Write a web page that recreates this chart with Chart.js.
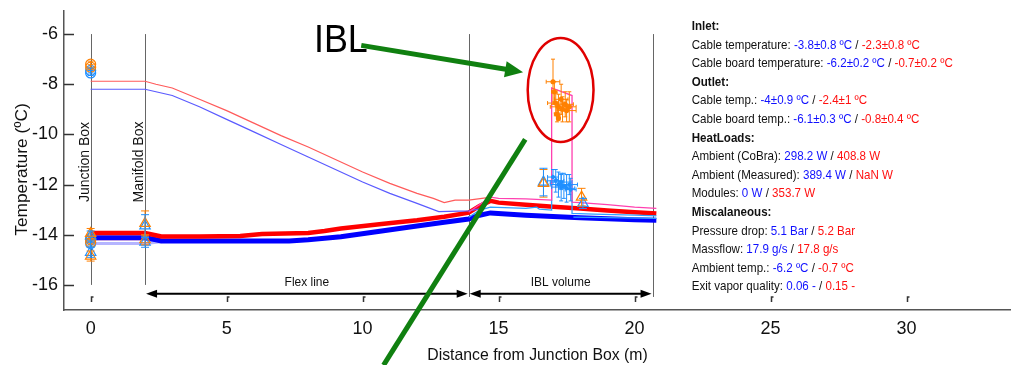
<!DOCTYPE html>
<html>
<head>
<meta charset="utf-8">
<script src="https://cdn.jsdelivr.net/npm/chart.js@4.4.1/dist/chart.umd.min.js"></script>
<style>
  html, body { margin: 0; padding: 0; background: #fff; }
</style>
</head>
<body>
<canvas id="myChart" width="1011" height="365"></canvas>
<script>
var xTicks = [0, 5, 10, 15, 20, 25, 30];
var yTicks = [-16, -14, -12, -10, -8, -6];

// temperature profiles along the line [distance, temp]
var thinRed = [[0,-7.88],[2,-7.88],[2.4,-8.0],[3,-8.15],[4,-8.6],[5,-9.05],[6,-9.55],[7,-10.05],[8,-10.5],[9,-11.0],[10,-11.5],[11,-11.95],[12,-12.35],[12.6,-12.55],[13,-12.72],[13.4,-12.62],[13.9,-12.62],[14.6,-12.52]];
var thinBlue = [[0,-8.2],[2,-8.2],[2.4,-8.3],[3,-8.45],[4,-8.9],[5,-9.4],[6,-9.9],[7,-10.4],[8,-10.9],[9,-11.4],[10,-11.9],[11,-12.35],[12,-12.75],[12.8,-13.08],[13.9,-13.05],[14.4,-12.95]];
var thickRed = [[0,-13.93],[2,-13.93],[2.3,-14.0],[2.6,-14.07],[4,-14.07],[5.5,-14.05],[6.3,-13.97],[8,-13.93],[8.6,-13.85],[9.2,-13.75],[10.7,-13.57],[12,-13.42],[13,-13.28],[13.9,-13.12],[14.3,-12.85],[14.7,-12.65],[15,-12.72],[16,-12.8],[17,-12.88],[18,-12.95],[19,-13.03],[20,-13.1],[20.8,-13.15]];
var thickBlue = [[0,-14.12],[2,-14.12],[2.4,-14.2],[2.6,-14.25],[7.3,-14.25],[8,-14.2],[9.2,-14.08],[10.7,-13.85],[12,-13.65],[13,-13.5],[13.9,-13.37],[14.3,-13.22],[14.7,-13.13],[16,-13.22],[17,-13.27],[18,-13.32],[19,-13.36],[20,-13.4],[20.8,-13.42]];
var paleRed = [[0,-14.15],[2,-14.15],[2.5,-14.12]];
var paleBlue = [[0,-14.35],[2,-14.35],[2.6,-14.28]];
var pinkLine = [[13.9,-13.1],[14.3,-12.8],[14.7,-12.5],[15,-12.55],[16,-12.57],[16.95,-12.62],[16.95,-8.15],[17.7,-8.45],[17.7,-12.7],[18,-12.72],[19,-12.8],[20,-12.9],[20.8,-12.95]];
var skyLine = [[13.9,-13.3],[14.3,-13.02],[14.7,-12.9],[16,-12.95],[16.4,-12.9],[16.5,-12.98],[16.95,-13.02],[16.95,-11.6],[17.7,-12.3],[17.7,-13.15],[18.5,-13.18],[20,-13.22],[20.8,-13.25]];
var skyLine2 = [[17.75,-13.3],[19,-13.32],[20.8,-13.35]];

// sensor readings [distance, temp, xErr, yErr]
var orangeCircles = [[0,-7.2,0,0.12],[0,-7.32,0,0.1],[0,-14.15,0,0.1],[0,-14.3,0,0.1]];
var blueCircles = [[0,-7.45,0,0.1],[0,-7.55,0,0.1],[0,-14.2,0,0.1],[0,-14.35,0,0.1]];
var orangeTri = [[0,-13.95,0,0.2],[0,-14.85,0,0.2],[2,-13.55,0,0.5],[2,-14.2,0,0.2],[16.65,-11.95,0,0.55],[18.05,-12.5,0,0.35]];
var blueTri = [[0,-14.05,0,0.2],[0,-14.7,0,0.2],[2,-13.65,0,0.45],[2,-14.3,0,0.2],[16.65,-11.9,0,0.55],[18.1,-12.75,0,0.2]];
var iblOrange = [[17.0,-7.9,0.25,0.9],[17.05,-8.3,0.1,0.4],[17.1,-8.75,0.3,0.4],[17.2,-8.9,0.3,0.5],[17.3,-8.6,0.25,0.6],[17.35,-9.0,0.2,0.5],[17.45,-8.8,0.3,0.5],[17.5,-9.05,0.35,0.45],[17.6,-8.9,0.25,0.6],[17.15,-9.2,0.1,0.3],[17.2,-9.35,0.05,0.1]];
var iblBlue = [[17.0,-11.7,0.2,0.3],[17.1,-11.85,0.3,0.45],[17.2,-12.0,0.3,0.5],[17.3,-12.1,0.35,0.55],[17.4,-12.05,0.3,0.5],[17.5,-12.15,0.3,0.55],[17.6,-12.0,0.3,0.4],[17.65,-12.2,0.2,0.45],[17.3,-11.9,0.4,0.3]];

var stations = [0, 2, 13.9, 20.66];
var stationBottoms = [-16, -16, -16.48, -16.48];
var stationNames = ['Junction Box', 'Manifold Box'];
var spanNames = ['Flex line', 'IBL volume'];
var spanStarts = [2, 13.9];
var spanEnds = [13.9, 20.66];

var panelLines = [
  [['Inlet:', 'b']],
  [['Cable temperature: ', 'k'], ['-3.8±0.8 ºC', 'B'], [' / ', 'k'], ['-2.3±0.8 ºC', 'R']],
  [['Cable board temperature: ', 'k'], ['-6.2±0.2 ºC', 'B'], [' / ', 'k'], ['-0.7±0.2 ºC', 'R']],
  [['Outlet:', 'b']],
  [['Cable temp.: ', 'k'], ['-4±0.9 ºC', 'B'], [' / ', 'k'], ['-2.4±1 ºC', 'R']],
  [['Cable board temp.: ', 'k'], ['-6.1±0.3 ºC', 'B'], [' / ', 'k'], ['-0.8±0.4 ºC', 'R']],
  [['HeatLoads:', 'b']],
  [['Ambient (CoBra): ', 'k'], ['298.2 W', 'B'], [' / ', 'k'], ['408.8 W', 'R']],
  [['Ambient (Measured): ', 'k'], ['389.4 W', 'B'], [' / ', 'k'], ['NaN W', 'R']],
  [['Modules: ', 'k'], ['0 W', 'B'], [' / ', 'k'], ['353.7 W', 'R']],
  [['Miscalaneous:', 'b']],
  [['Pressure drop: ', 'k'], ['5.1 Bar', 'B'], [' / ', 'k'], ['5.2 Bar', 'R']],
  [['Massflow: ', 'k'], ['17.9 g/s', 'B'], [' / ', 'k'], ['17.8 g/s', 'R']],
  [['Ambient temp.: ', 'k'], ['-6.2 ºC', 'B'], [' / ', 'k'], ['-0.7 ºC', 'R']],
  [['Exit vapor quality: ', 'k'], ['0.06 -', 'B'], [' / ', 'k'], ['0.15 -', 'R']]
];

var FONT = '"Liberation Sans", Arial, sans-serif';
var GREEN = '#108010';

function toPts(arr) {
  return arr.map(function(p) { return { x: p[0], y: p[1], ex: p[2] || 0, ey: p[3] || 0 }; });
}

function lineSet(arr, color, width) {
  return { data: toPts(arr), showLine: true, borderColor: color, borderWidth: width,
           pointRadius: 0, fill: false, tension: 0 };
}

function markSet(arr, color, style, radius, cap, filled) {
  return { data: toPts(arr), showLine: false, borderColor: color, pointBorderColor: color,
           pointBackgroundColor: filled ? color : 'rgba(0,0,0,0)', pointStyle: style,
           pointRadius: radius, pointBorderWidth: 1.2, errBars: true, capSize: cap };
}

// text squeezed horizontally, the original uses a narrow face
function narrowText(ctx, text, x, y, sx) {
  ctx.save();
  ctx.translate(x, y);
  ctx.scale(sx, 1);
  ctx.fillText(text, 0, 0);
  ctx.restore();
}

function arrowHead(ctx, x, y, dir, len, half) {
  ctx.beginPath();
  ctx.moveTo(x, y);
  ctx.lineTo(x - dir * len, y - half);
  ctx.lineTo(x - dir * len, y + half);
  ctx.closePath();
  ctx.fill();
}

var extras = {
  id: 'extras',
  beforeDatasetsDraw: function(chart) {
    var ctx = chart.ctx, xs = chart.scales.x, ys = chart.scales.y;
    ctx.save();
    ctx.strokeStyle = '#666';
    ctx.lineWidth = 1;
    stations.forEach(function(s, i) {
      var px = Math.round(xs.getPixelForValue(s)) + 0.5;
      ctx.beginPath();
      ctx.moveTo(px, ys.getPixelForValue(-6));
      ctx.lineTo(px, ys.getPixelForValue(stationBottoms[i]));
      ctx.stroke();
    });
    // station names, rotated
    ctx.fillStyle = '#111';
    ctx.font = '14px ' + FONT;
    ctx.textAlign = 'center';
    ctx.textBaseline = 'middle';
    stationNames.forEach(function(n, i) {
      ctx.save();
      ctx.translate(xs.getPixelForValue(stations[i]) - 6, ys.getPixelForValue(-11.1));
      ctx.rotate(-Math.PI / 2);
      ctx.fillText(n, 0, 0);
      ctx.restore();
    });
    // span arrows
    ctx.strokeStyle = '#000';
    ctx.lineWidth = 2;
    var ay = ys.getPixelForValue(-16.35);
    spanNames.forEach(function(n, i) {
      var a = xs.getPixelForValue(spanStarts[i]) + 1, b = xs.getPixelForValue(spanEnds[i]) - 1;
      ctx.beginPath();
      ctx.moveTo(a + 6, ay); ctx.lineTo(b - 6, ay);
      ctx.stroke();
      ctx.fillStyle = '#000';
      arrowHead(ctx, a, ay, -1, 11, 4);
      arrowHead(ctx, b, ay, 1, 11, 4);
      ctx.font = '13px ' + FONT;
      ctx.fillStyle = '#111';
      narrowText(ctx, n, (a + b) / 2, ys.getPixelForValue(-15.9), 0.92);
    });
    ctx.restore();
  },
  afterDatasetsDraw: function(chart) {
    var ctx = chart.ctx, xs = chart.scales.x, ys = chart.scales.y, area = chart.chartArea;
    ctx.save();
    // error bars
    chart.data.datasets.forEach(function(ds) {
      if (!ds.errBars) return;
      var cap = ds.capSize;
      ctx.strokeStyle = ds.borderColor;
      ctx.lineWidth = 1;
      ds.data.forEach(function(p) {
        var px = xs.getPixelForValue(p.x), py = ys.getPixelForValue(p.y);
        ctx.beginPath();
        if (p.ey) {
          var t = ys.getPixelForValue(p.y + p.ey), b = ys.getPixelForValue(p.y - p.ey);
          ctx.moveTo(px, t); ctx.lineTo(px, b);
          ctx.moveTo(px - cap, t); ctx.lineTo(px + cap, t);
          ctx.moveTo(px - cap, b); ctx.lineTo(px + cap, b);
        }
        if (p.ex) {
          var l = xs.getPixelForValue(p.x - p.ex), r = xs.getPixelForValue(p.x + p.ex);
          ctx.moveTo(l, py); ctx.lineTo(r, py);
          ctx.moveTo(l, py - cap); ctx.lineTo(l, py + cap);
          ctx.moveTo(r, py - cap); ctx.lineTo(r, py + cap);
        }
        ctx.stroke();
      });
    });
    // tick marks (drawn inside the axes)
    ctx.strokeStyle = '#333';
    ctx.lineWidth = 1.5;
    yTicks.forEach(function(v) {
      var py = Math.round(ys.getPixelForValue(v)) + 0.5;
      ctx.beginPath();
      ctx.moveTo(area.left, py); ctx.lineTo(area.left + 10, py);
      ctx.stroke();
    });
    xTicks.forEach(function(v) {
      var px = Math.round(xs.getPixelForValue(v)) + 0.5;
      ctx.beginPath();
      ctx.moveTo(px, area.bottom - 8); ctx.lineTo(px, area.bottom - 13); ctx.lineTo(px + 2, area.bottom - 13);
      ctx.stroke();
    });
    // IBL annotation
    ctx.fillStyle = '#000';
    ctx.font = '39px ' + FONT;
    ctx.textAlign = 'center';
    ctx.textBaseline = 'alphabetic';
    narrowText(ctx, 'IBL', xs.getPixelForValue(9.2), ys.getPixelForValue(-6.72), 0.92);
    ctx.strokeStyle = GREEN;
    ctx.fillStyle = GREEN;
    ctx.lineWidth = 5;
    var x1 = xs.getPixelForValue(9.95), y1 = ys.getPixelForValue(-6.45);
    var x2 = xs.getPixelForValue(15.9), y2 = ys.getPixelForValue(-7.52);
    var ang = Math.atan2(y2 - y1, x2 - x1);
    ctx.beginPath();
    ctx.moveTo(x1, y1);
    ctx.lineTo(x2 - 16 * Math.cos(ang), y2 - 16 * Math.sin(ang));
    ctx.stroke();
    ctx.beginPath();
    ctx.moveTo(x2, y2);
    ctx.lineTo(x2 - 18 * Math.cos(ang) + 8 * Math.sin(ang), y2 - 18 * Math.sin(ang) - 8 * Math.cos(ang));
    ctx.lineTo(x2 - 18 * Math.cos(ang) - 8 * Math.sin(ang), y2 - 18 * Math.sin(ang) + 8 * Math.cos(ang));
    ctx.closePath();
    ctx.fill();
    ctx.beginPath();
    ctx.moveTo(xs.getPixelForValue(15.98), ys.getPixelForValue(-10.2));
    ctx.lineTo(xs.getPixelForValue(10.77), ys.getPixelForValue(-19.2));
    ctx.stroke();
    // red ellipse
    ctx.strokeStyle = '#e00000';
    ctx.lineWidth = 2.5;
    var cx = xs.getPixelForValue(17.28), cy = ys.getPixelForValue(-8.23);
    ctx.beginPath();
    ctx.ellipse(cx, cy, xs.getPixelForValue(18.49) - cx, ys.getPixelForValue(-10.3) - cy, 0, 0, Math.PI * 2);
    ctx.stroke();
    ctx.restore();
  },
  afterDraw: function(chart) {
    var ctx = chart.ctx, xs = chart.scales.x, area = chart.chartArea;
    ctx.save();
    // axis titles
    ctx.fillStyle = '#111';
    ctx.font = '17px ' + FONT;
    ctx.textAlign = 'center';
    ctx.textBaseline = 'middle';
    narrowText(ctx, 'Distance from Junction Box (m)', (area.left + area.right) / 2, area.bottom + 45, 0.93);
    ctx.save();
    ctx.translate(22, (area.top + area.bottom) / 2 + 9);
    ctx.rotate(-Math.PI / 2);
    narrowText(ctx, 'Temperature (ºC)', 0, 0, 1.02);
    ctx.restore();
    // summary panel
    var px = xs.getPixelForValue(22.1);
    var colors = { k: '#111', b: '#111', B: '#1010ff', R: '#ff1010' };
    ctx.textAlign = 'left';
    panelLines.forEach(function(line, i) {
      var y = area.top + 15.5 + i * 18.6;
      ctx.save();
      ctx.translate(px, y);
      ctx.scale(0.89, 1);
      var x = 0;
      line.forEach(function(seg) {
        ctx.font = (seg[1] === 'b' ? 'bold ' : '') + '13px ' + FONT;
        ctx.fillStyle = colors[seg[1]];
        ctx.fillText(seg[0], x, 0);
        x += ctx.measureText(seg[0]).width;
      });
      ctx.restore();
    });
    ctx.restore();
  }
};

var ctx = document.getElementById('myChart');
var myChart = new Chart(ctx, {
  type: 'scatter',
  data: {
    datasets: [
      markSet(iblOrange, '#ff8000', 'circle', 2, 2, true),
      markSet(iblBlue, '#2090ff', 'circle', 1.5, 2, true),
      markSet(orangeTri, '#ff8000', 'triangle', 6, 4, false),
      markSet(blueTri, '#2090ff', 'triangle', 6, 4, false),
      markSet(orangeCircles, '#ff8000', 'circle', 5, 3, false),
      markSet(blueCircles, '#2090ff', 'circle', 5, 3, false),
      lineSet(pinkLine, '#ff40b0', 1.3),
      lineSet(skyLine, '#30a0ff', 1.3),
      lineSet(skyLine2, '#30a0ff', 1.3),
      lineSet(thinRed, '#ff5a5a', 1.2),
      lineSet(thinBlue, '#5a5aff', 1.2),
      lineSet(thickRed, '#ff0000', 4.5),
      lineSet(thickBlue, '#0000ff', 5),
      lineSet(paleRed, 'rgba(255,120,150,0.6)', 4),
      lineSet(paleBlue, 'rgba(150,150,255,0.7)', 3)
    ]
  },
  options: {
    responsive: false,
    animation: false,
    devicePixelRatio: 1,
    layout: { autoPadding: false, padding: { top: 11, right: 0, left: 0, bottom: 0 } },
    plugins: { legend: { display: false }, tooltip: { enabled: false } },
    scales: {
      x: {
        type: 'linear', min: -0.98, max: 33.84,
        afterFit: function(s) { s.height = 55; s.paddingRight = 0; s.paddingLeft = 0; },
        afterBuildTicks: function(s) { s.ticks = xTicks.map(function(v) { return { value: v }; }); },
        grid: { display: false, drawTicks: false },
        border: { display: true, color: '#555', width: 1.5 },
        ticks: { color: '#111', padding: 8, font: { size: 18, family: FONT } }
      },
      y: {
        type: 'linear', min: -17, max: -5.08,
        afterFit: function(s) { s.width = 64; s.paddingTop = 0; s.paddingBottom = 0; },
        afterBuildTicks: function(s) { s.ticks = yTicks.map(function(v) { return { value: v }; }); },
        grid: { display: false, drawTicks: false },
        border: { display: true, color: '#555', width: 1.5 },
        ticks: { color: '#111', padding: 6, font: { size: 18, family: FONT } }
      }
    }
  },
  plugins: [extras]
});
</script>
</body>
</html>
